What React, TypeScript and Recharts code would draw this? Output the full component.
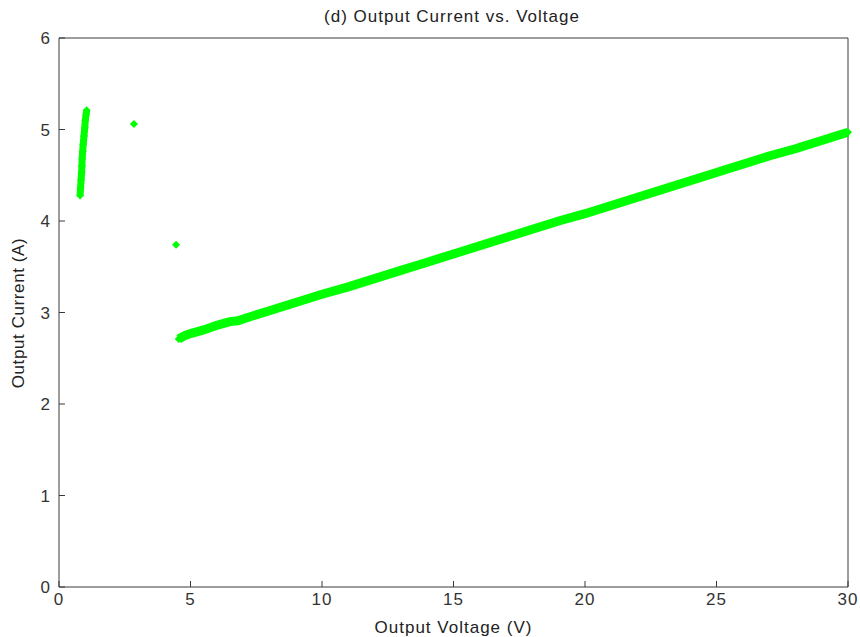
import { Scatter, ScatterChart, XAxis, YAxis } from "recharts";

const clusterVoltage = [0.8, 0.82, 0.84, 0.86, 0.87, 0.88, 0.9, 0.92, 0.95, 0.98, 1.0, 1.03, 1.05];
const clusterCurrent = [4.28, 4.36, 4.45, 4.53, 4.6, 4.68, 4.76, 4.84, 4.93, 5.02, 5.1, 5.16, 5.21];

const strayVoltage = [2.85, 4.45];
const strayCurrent = [5.06, 3.74];

const mainVoltage = [4.55, 4.8, 5.0, 5.5, 6.0, 6.5, 6.8, 7.0, 8, 9, 10, 11, 12, 13, 14, 15, 16, 17, 18, 19, 20, 21, 22, 23, 24, 25, 26, 27, 28, 29, 30];
const mainCurrent = [2.71, 2.75, 2.77, 2.81, 2.86, 2.9, 2.91, 2.93, 3.02, 3.11, 3.2, 3.28, 3.37, 3.46, 3.55, 3.64, 3.73, 3.82, 3.91, 4.0, 4.08, 4.17, 4.26, 4.35, 4.44, 4.53, 4.62, 4.71, 4.79, 4.88, 4.97];

const xTicks = [0, 5, 10, 15, 20, 25, 30];
const yTicks = [0, 1, 2, 3, 4, 5, 6];

const toPoints = (xs: number[], ys: number[]) => xs.map((v, i) => ({ v, c: ys[i] }));

const GREEN = "#00ff00";
const AXIS = "#3a3a3a";
const FONT = "'Liberation Sans', Arial, sans-serif";
const tickFont = { fill: "#333", fontSize: 17, fontFamily: FONT, letterSpacing: 1 };
const blank = () => "";

// matlab-ish square diamond marker
const Diamond = (props: any) => {
  const { cx, cy } = props;
  const r = 4;
  return <path d={`M${cx},${cy - r}L${cx + r},${cy}L${cx},${cy + r}L${cx - r},${cy}Z`} fill={GREEN} />;
};

export default function App() {
  return (
    <div style={{ position: "absolute", left: 0, top: 0, width: 860, height: 637, fontFamily: FONT, color: "#222" }}>
      <div style={{ position: "absolute", left: 0, width: 904, top: 7, textAlign: "center", fontSize: 17, letterSpacing: 1, lineHeight: "20px" }}>
        (d) Output Current vs. Voltage
      </div>
      <div
        style={{
          position: "absolute",
          left: 19,
          top: 313,
          transform: "translate(-50%, -50%) rotate(-90deg)",
          whiteSpace: "nowrap",
          fontSize: 17,
          letterSpacing: 0.6,
          lineHeight: "20px",
        }}
      >
        Output Current (A)
      </div>
      <ScatterChart width={860} height={637} margin={{ top: 37, right: 11, bottom: 0, left: 0 }}>
        <XAxis
          xAxisId="b"
          dataKey="v"
          type="number"
          domain={[0, 30]}
          ticks={xTicks}
          height={50}
          stroke={AXIS}
          tickSize={-6}
          tickMargin={12}
          tick={tickFont}
          label={{ value: "Output Voltage (V)", position: "insideBottom", offset: 4, fill: "#222", fontSize: 17, fontFamily: FONT, letterSpacing: 1 }}
        />
        <XAxis xAxisId="t" dataKey="v" type="number" orientation="top" domain={[0, 30]} ticks={xTicks} height={1} stroke={AXIS} tickSize={-6} tickFormatter={blank} />
        <YAxis
          yAxisId="l"
          dataKey="c"
          type="number"
          domain={[0, 6]}
          ticks={yTicks}
          width={59}
          stroke={AXIS}
          tickSize={-6}
          tickMargin={14}
          tick={tickFont}
        />
        <YAxis yAxisId="r" dataKey="c" type="number" orientation="right" domain={[0, 6]} ticks={yTicks} width={1} stroke={AXIS} tickSize={-6} tickFormatter={blank} />
        <Scatter xAxisId="b" yAxisId="l" data={toPoints(clusterVoltage, clusterCurrent)} shape={Diamond} legendType="none" line={{ stroke: GREEN, strokeWidth: 7 }} isAnimationActive={false} />
        <Scatter xAxisId="b" yAxisId="l" data={toPoints(strayVoltage, strayCurrent)} shape={Diamond} legendType="none" isAnimationActive={false} />
        <Scatter xAxisId="b" yAxisId="l" data={toPoints(mainVoltage, mainCurrent)} shape={Diamond} legendType="none" line={{ stroke: GREEN, strokeWidth: 9 }} isAnimationActive={false} />
      </ScatterChart>
    </div>
  );
}
